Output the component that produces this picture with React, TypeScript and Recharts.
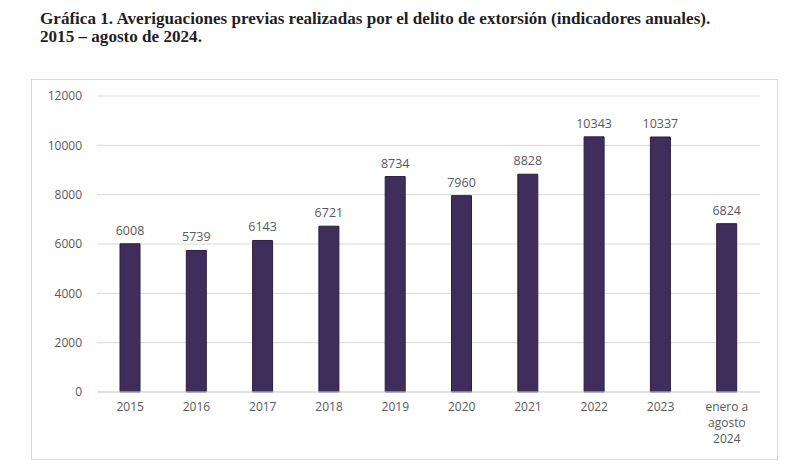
import React from 'react';
import { BarChart, Bar, XAxis, YAxis, CartesianGrid, LabelList } from 'recharts';

const years = ['2015', '2016', '2017', '2018', '2019', '2020', '2021', '2022', '2023', 'enero a\nagosto\n2024'];
const cases = [6008, 5739, 6143, 6721, 8734, 7960, 8828, 10343, 10337, 6824];
const yTicks = [0, 2000, 4000, 6000, 8000, 10000, 12000];

const data = years.map((year, i) => ({ year, value: cases[i] }));

const tickFont = '"Open Sans", "DejaVu Sans", sans-serif';

const MultiLineTick = (props: any) => {
  const { x, y, payload } = props;
  const lines = String(payload.value).split('\n');
  return (
    <text x={x} y={y} textAnchor="middle" fill="#595959" fontSize={12} fontFamily={tickFont}>
      {lines.map((line, i) => (
        <tspan key={i} x={x} dy={i === 0 ? '0.71em' : 16}>
          {line}
        </tspan>
      ))}
    </text>
  );
};

export default function App() {
  return (
    <div style={{ position: 'absolute', left: 0, top: 0, width: 800, height: 469, background: '#fff' }}>
      <div
        style={{
          position: 'absolute',
          left: 40,
          top: 10,
          fontFamily: '"Liberation Serif", "DejaVu Serif", serif',
          fontSize: 17.1,
          lineHeight: '18px',
          color: '#1f1f1f',
          fontWeight: 700,
        }}
      >
        Gráfica 1. Averiguaciones previas realizadas por el delito de extorsión (indicadores anuales).
        <br />
        2015 – agosto de 2024.
      </div>
      <div
        style={{
          position: 'absolute',
          left: 31,
          top: 79,
          width: 745,
          height: 379,
          border: '1px solid #d9d9d9',
        }}
      >
        <BarChart
          width={745}
          height={379}
          data={data}
          margin={{ top: 16, right: 17, bottom: 7, left: 15 }}
          barCategoryGap="35%"
        >
          <CartesianGrid vertical={false} stroke="#d9d9d9" />
          <XAxis
            dataKey="year"
            height={60}
            interval={0}
            axisLine={{ stroke: '#d9d9d9' }}
            tickLine={false}
            tickSize={0}
            tickMargin={10}
            tick={<MultiLineTick />}
          />
          <YAxis
            width={50}
            domain={[0, 12000]}
            ticks={yTicks}
            axisLine={false}
            tickLine={false}
            tickSize={0}
            tickMargin={15}
            tick={{ fill: '#595959', fontSize: 12, fontFamily: tickFont }}
          />
          <Bar dataKey="value" fill="#3f2d5b" stroke="#2b1e40" barSize={20} isAnimationActive={false}>
            <LabelList
              dataKey="value"
              position="top"
              offset={9}
              fill="#595959"
              fontSize={12.5}
              fontFamily={tickFont}
            />
          </Bar>
        </BarChart>
      </div>
    </div>
  );
}
